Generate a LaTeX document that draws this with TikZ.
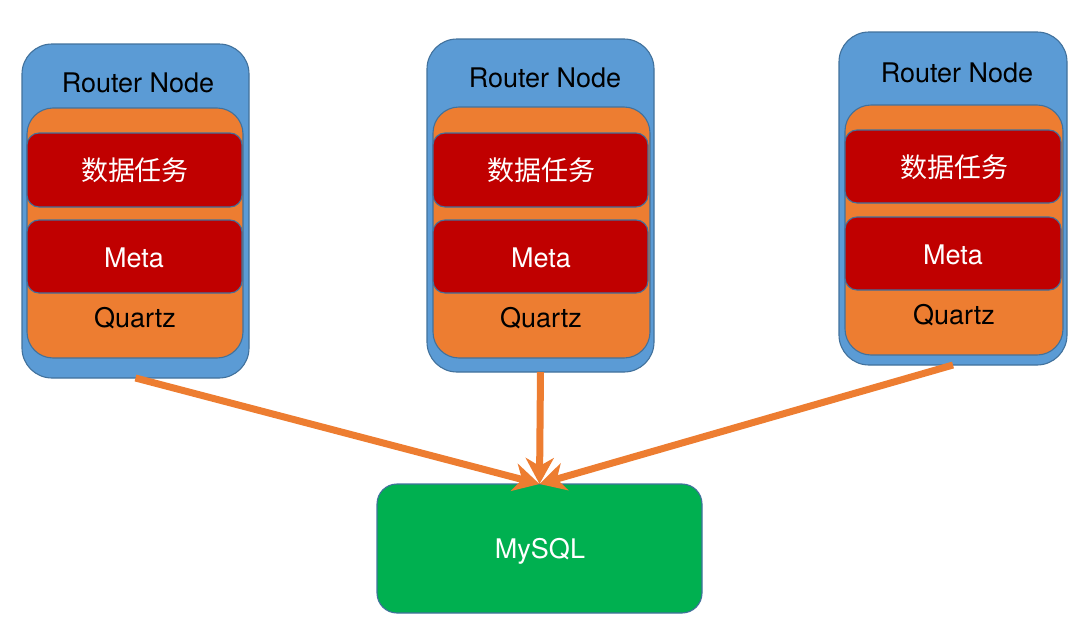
\documentclass[tikz,border=0pt]{standalone}
\usepackage{fontspec}
\setmainfont{TeX Gyre Heros}
\newfontfamily\cjk{Noto Sans CJK SC}
\usetikzlibrary{arrows.meta}
\definecolor{rblue}{HTML}{5B9BD5}
\definecolor{rorange}{HTML}{ED7D31}
\definecolor{rred}{HTML}{C00000}
\definecolor{rgreen}{HTML}{00B050}
\definecolor{rborder}{HTML}{41719C}
\tikzset{
  x=1pt, y=-1pt,
  box/.style={draw=rborder, line width=1.1pt, inner sep=0pt, outer sep=0pt},
  outerbox/.style={box, fill=rblue, rounded corners=30pt},
  orangebox/.style={box, fill=rorange, rounded corners=26pt},
  redbox/.style={box, fill=rred, rounded corners=12pt},
  dbbox/.style={box, fill=rgreen, rounded corners=20pt},
  lbl/.style={font=\fontsize{27}{32}\selectfont, inner sep=0pt},
  wlbl/.style={lbl, text=white},
  conn/.style={draw=rorange, line width=7pt, -{Stealth[length=26pt, width=28pt, inset=8pt]}},
}
\begin{document}
\begin{tikzpicture}
\useasboundingbox (0,0) rectangle (1080,624);
% left
\node[outerbox, minimum width=227pt, minimum height=334pt] (L) at (135.5,211) {};
\node[orangebox, minimum width=216pt, minimum height=250pt] (Lo) at (135,233) {};
\node[redbox, minimum width=215pt, minimum height=74pt] (Lr1) at (134.5,170) {};
\node[redbox, minimum width=215pt, minimum height=73pt] (Lr2) at (134.5,256.5) {};
\node[lbl] (Lt) at (138,83) {Router Node};
\node[wlbl] (Ld) at (135,170) {\cjk 数据任务};
\node[wlbl] (Lm) at (134,258) {Meta};
\node[lbl] (Lq) at (135,318) {Quartz};
% middle
\node[outerbox, minimum width=227pt, minimum height=333pt] (M) at (540.5,205.5) {};
\node[orangebox, minimum width=217pt, minimum height=251pt] (Mo) at (541.5,232.5) {};
\node[redbox, minimum width=215pt, minimum height=74pt] (Mr1) at (540.5,170) {};
\node[redbox, minimum width=215pt, minimum height=73pt] (Mr2) at (540.5,256.5) {};
\node[lbl] (Mt) at (545,78) {Router Node};
\node[wlbl] (Md) at (541,170) {\cjk 数据任务};
\node[wlbl] (Mm) at (541,258) {Meta};
\node[lbl] (Mq) at (541,318) {Quartz};
% right
\node[outerbox, minimum width=228pt, minimum height=333pt] (R) at (953,198.5) {};
\node[orangebox, minimum width=218pt, minimum height=250pt] (Ro) at (954,230) {};
\node[redbox, minimum width=216pt, minimum height=73pt] (Rr1) at (953,166.5) {};
\node[redbox, minimum width=216pt, minimum height=73pt] (Rr2) at (953,253.5) {};
\node[lbl] (Rt) at (957,73) {Router Node};
\node[wlbl] (Rd) at (954,167) {\cjk 数据任务};
\node[wlbl] (Rm) at (953,255) {Meta};
\node[lbl] (Rq) at (954,315) {Quartz};
% database
\node[dbbox, minimum width=325pt, minimum height=129pt] (db) at (539.5,548.5) {};
\node[wlbl] (dbt) at (540,551) {MySQL};
% connectors
\draw[conn] (L.south) -- (db.north);
\draw[conn] (M.south) -- (db.north);
\draw[conn] (R.south) -- (db.north);
\end{tikzpicture}
\end{document}
